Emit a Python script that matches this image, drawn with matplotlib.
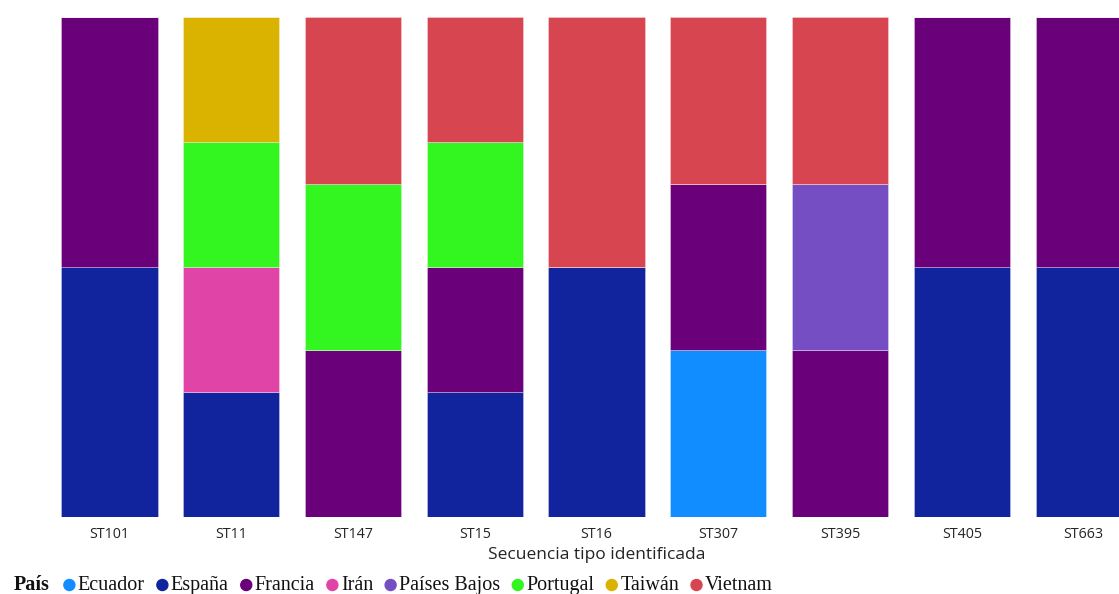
import matplotlib
matplotlib.use("Agg")
import matplotlib.pyplot as plt
import numpy as np

# Secuencias tipo (eje X)
categories = ["ST101", "ST11", "ST147", "ST15", "ST16", "ST307", "ST395", "ST405", "ST663"]

# Número de aislamientos por país en cada secuencia tipo
ecuador      = [0, 0, 0, 0, 0, 1, 0, 0, 0]
espana       = [1, 1, 0, 1, 1, 0, 0, 1, 1]
francia      = [1, 0, 1, 1, 0, 1, 1, 1, 1]
iran         = [0, 1, 0, 0, 0, 0, 0, 0, 0]
paises_bajos = [0, 0, 0, 0, 0, 0, 1, 0, 0]
portugal     = [0, 1, 1, 1, 0, 0, 0, 0, 0]
taiwan       = [0, 1, 0, 0, 0, 0, 0, 0, 0]
vietnam      = [0, 0, 1, 1, 1, 1, 1, 0, 0]

countries = ["Ecuador", "España", "Francia", "Irán", "Países Bajos", "Portugal", "Taiwán", "Vietnam"]
series = [ecuador, espana, francia, iran, paises_bajos, portugal, taiwan, vietnam]
colors = ["#118DFF", "#12239E", "#6B007B", "#E044A7", "#744EC2", "#33F51F", "#D9B300", "#D64550"]

W, H = 1119, 594
fig = plt.figure(figsize=(W / 100, H / 100), dpi=100)

# Eje que se extiende más allá del borde derecho de la figura
ax_left, ax_width = 48.6, 1096.0
ax_bottom, ax_top = 517.0, 17.0
ax = fig.add_axes([ax_left / W, (H - ax_bottom) / H, ax_width / W, (ax_bottom - ax_top) / H])

data = np.array(series, dtype=float)
totals = data.sum(axis=0)
shares = data / totals

x = np.arange(len(categories))
bottom = np.zeros(len(categories))
for share, color in zip(shares, colors):
    ax.bar(x, share, bottom=bottom, width=0.79, color=color,
           edgecolor=(1, 1, 1, 0.35), linewidth=0.6)
    bottom += share

ax.set_xlim(-0.5, len(categories) - 0.5)
ax.set_ylim(0, 1)
ax.set_yticks([])
for s in ax.spines.values():
    s.set_visible(False)
ax.set_xticks(x)
ax.set_xticklabels(categories, fontsize=10.3, color="#252423", family="Open Sans")
ax.tick_params(axis="x", length=0, pad=7)
ax.set_xlabel("Secuencia tipo identificada", fontsize=12.5, color="#252423",
              family="Open Sans", labelpad=4)

# Leyenda horizontal en la parte inferior
fig.canvas.draw()
renderer = fig.canvas.get_renderer()
y_leg = 1 - 585.5 / H
t = fig.text(14 / W, y_leg, "País", fontsize=14.5, fontweight="bold",
             family="Liberation Serif", va="center", ha="left", color="#111111")
xpos = t.get_window_extent(renderer).x1 + 14
y_dot = 1 - 585 / H
for name, color in zip(countries, colors):
    fig.patches.append(matplotlib.patches.Ellipse(
        ((xpos + 5.5) / W, y_dot), 11 / W, 11 / H, transform=fig.transFigure,
        color=color, figure=fig))
    tt = fig.text((xpos + 14) / W, y_leg, name, fontsize=14.5,
                  family="Liberation Serif", va="center", ha="left", color="#111111")
    xpos = tt.get_window_extent(renderer).x1 + 12

fig.savefig("out.png", dpi=100)
